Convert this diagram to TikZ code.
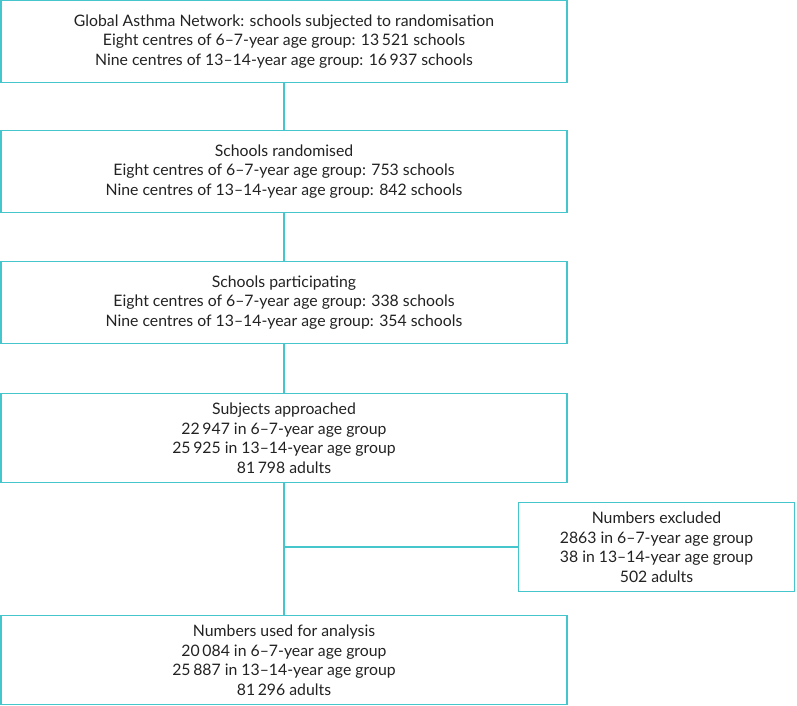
\documentclass[tikz,border=0pt]{standalone}
\usepackage{fontspec}
\setmainfont{Lato}
\definecolor{boxline}{HTML}{45C6CD}
\definecolor{txt}{HTML}{222222}
\begin{document}
\begin{tikzpicture}[x=1pt,y=1pt,
  box/.style={draw=boxline, line width=1.5pt, inner sep=0pt, align=center,
    text=txt, font=\fontsize{15.8}{19.5}\selectfont},
  conn/.style={draw=boxline, line width=1.2pt}]
\useasboundingbox (0,0) rectangle (797,-706);
\node[box, minimum width=566pt, minimum height=82pt] (b1) at (284,-41.5)
 {Global Asthma Network: schools subjected to randomisation\\
  Eight centres of 6--7-year age group: 13\,521 schools\\
  Nine centres of 13--14-year age group: 16\,937 schools};
\node[box, minimum width=566pt, minimum height=82pt] (b2) at (284,-171.5)
 {Schools randomised\\
  Eight centres of 6--7-year age group: 753 schools\\
  Nine centres of 13--14-year age group: 842 schools};
\node[box, minimum width=566pt, minimum height=82pt] (b3) at (284,-302.5)
 {Schools participating\\
  Eight centres of 6--7-year age group: 338 schools\\
  Nine centres of 13--14-year age group: 354 schools};
\node[box, minimum width=566pt, minimum height=89pt] (b4) at (284,-438)
 {Subjects approached\\
  22\,947 in 6--7-year age group\\
  25\,925 in 13--14-year age group\\
  81\,798 adults};
\node[box, minimum width=276pt, minimum height=89pt] (ex) at (656.5,-547)
 {Numbers excluded\\
  2863 in 6--7-year age group\\
  38 in 13--14-year age group\\
  502 adults};
\node[box, minimum width=566pt, minimum height=89pt] (b6) at (284,-660)
 {Numbers used for analysis\\
  20\,084 in 6--7-year age group\\
  25\,887 in 13--14-year age group\\
  81\,296 adults};
\draw[conn] (b1.south) -- (b2.north);
\draw[conn] (b2.south) -- (b3.north);
\draw[conn] (b3.south) -- (b4.north);
\draw[conn] (b4.south) -- (b6.north);
\draw[conn] (ex.west) -- (ex.west -| b4.south);
\end{tikzpicture}
\end{document}
